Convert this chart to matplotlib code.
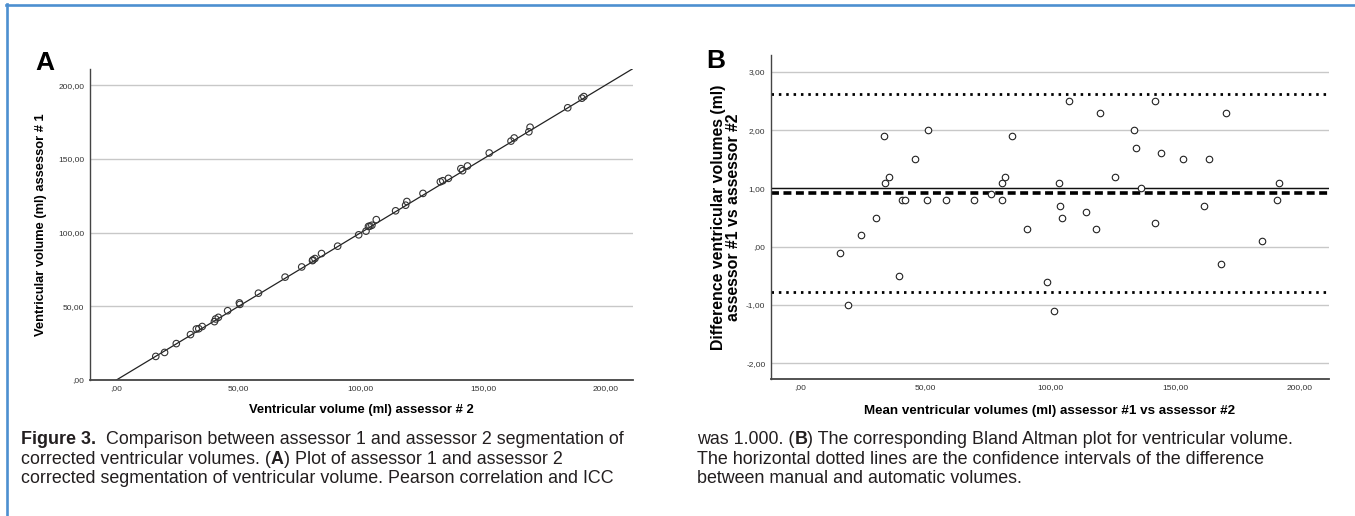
import matplotlib
matplotlib.use('Agg')
import matplotlib.pyplot as plt
from matplotlib import rcParams
from matplotlib.lines import Line2D
from matplotlib.ticker import FuncFormatter

# panel A: assessor 2 (x) vs assessor 1 (y), ml
a2_vol = [16.1, 19.7, 24.5, 30.3, 32.7, 33.7, 35.1, 40.1, 40.6, 41.7, 45.5, 50.5,
          50.3, 58.1, 69.0, 75.8, 80.2, 80.4, 81.2, 83.9, 90.5, 99.1, 102.1, 103.1,
          103.7, 104.5, 106.3, 114.2, 118.3, 118.8, 125.4, 132.5, 133.5, 135.8, 141.6,
          140.9, 143.6, 152.5, 161.4, 162.7, 168.7, 169.2, 184.6, 190.4, 191.2]
a1_vol = [16.0, 18.7, 24.7, 30.8, 34.6, 34.8, 36.3, 39.6, 41.4, 42.5, 47.0, 51.3,
          52.3, 58.9, 69.8, 76.7, 81.0, 81.5, 82.4, 85.8, 90.8, 98.5, 101.0, 104.2,
          104.4, 105.0, 108.8, 114.8, 118.6, 121.1, 126.6, 134.5, 135.2, 136.8, 142.0,
          143.4, 145.2, 154.0, 162.1, 164.2, 168.4, 171.5, 184.7, 191.2, 192.3]

# panel B: Bland Altman, mean vs difference
ba_mean = [16.0, 19.2, 24.6, 30.5, 33.6, 34.2, 35.7, 39.8, 41.0, 42.1, 46.2, 50.9,
           51.3, 58.5, 69.4, 76.2, 80.6, 80.9, 81.8, 84.8, 90.6, 98.8, 101.5, 103.6,
           104.0, 104.7, 107.5, 114.5, 118.4, 119.9, 126.0, 133.5, 134.3, 136.3, 141.8,
           142.1, 144.4, 153.2, 161.7, 163.4, 168.5, 170.3, 184.6, 190.8, 191.7]
ba_diff = [-0.1, -1.0, 0.2, 0.5, 1.9, 1.1, 1.2, -0.5, 0.8, 0.8, 1.5, 0.8,
           2.0, 0.8, 0.8, 0.9, 0.8, 1.1, 1.2, 1.9, 0.3, -0.6, -1.1, 1.1,
           0.7, 0.5, 2.5, 0.6, 0.3, 2.3, 1.2, 2.0, 1.7, 1.0, 0.4,
           2.5, 1.6, 1.5, 0.7, 1.5, -0.3, 2.3, 0.1, 0.8, 1.1]
ba_ref = 1.0
ba_bias = 0.93
ba_upper = 2.62
ba_lower = -0.78

a_ticks = [0, 50, 100, 150, 200]
b_yticks = [-2, -1, 0, 1, 2, 3]

caption_left = [
    [(u'Figure 3.', True), (u'  Comparison between assessor 1 and assessor 2 segmentation of', False)],
    [(u'corrected ventricular volumes. (', False), (u'A', True), (u') Plot of assessor 1 and assessor 2', False)],
    [(u'corrected segmentation of ventricular volume. Pearson correlation and ICC', False)],
]
caption_right = [
    [(u'was 1.000. (', False), (u'B', True), (u') The corresponding Bland Altman plot for ventricular volume.', False)],
    [(u'The horizontal dotted lines are the confidence intervals of the difference', False)],
    [(u'between manual and automatic volumes.', False)],
]


def spss_fmt(v, pos=None):
    s = ('%.2f' % v).replace('.', ',')
    if s.startswith('0,'):
        s = s[1:]
    return s


rcParams.update({
    'font.family': 'sans-serif',
    'font.sans-serif': ['Liberation Sans', 'DejaVu Sans'],
    'font.size': 8,
})

W, H = 1355, 516
fig = plt.figure(figsize=(W / 100., H / 100.), dpi=100)


def px_axes(l, t, r, b):
    return fig.add_axes([l / float(W), 1 - b / float(H), (r - l) / float(W), (b - t) / float(H)])


def style_axes(ax):
    for s in ['top', 'right']:
        ax.spines[s].set_visible(False)
    ax.spines['left'].set_color('#444444')
    ax.spines['bottom'].set_color('#444444')
    ax.spines['left'].set_linewidth(1.0)
    ax.spines['bottom'].set_linewidth(1.3)
    ax.tick_params(length=0, labelsize=6.0, colors='#333333')
    ax.tick_params(axis='x', pad=3.5)
    ax.tick_params(axis='y', pad=4)
    ax.xaxis.set_major_formatter(FuncFormatter(spss_fmt))
    ax.yaxis.set_major_formatter(FuncFormatter(spss_fmt))
    ax.grid(True, axis='y', color='#c8c8c8', linewidth=1.0)
    ax.set_axisbelow(True)


# ---- panel A ----
axA = px_axes(90, 69, 633, 380)
style_axes(axA)
axA.set_xlim(-10.8, 211.3)
axA.set_ylim(0, 211)
axA.set_xticks(a_ticks)
axA.set_yticks(a_ticks)
axA.plot([0, 215], [0, 215], color='#222222', linewidth=0.9)
axA.scatter(a2_vol, a1_vol, s=22, facecolors='none', edgecolors='#333333', linewidths=0.8, zorder=3)
axA.set_xlabel(u'Ventricular volume (ml) assessor # 2', fontsize=9.4, fontweight='bold', labelpad=9)
axA.set_ylabel(u'Ventricular volume (ml) assessor # 1', fontsize=9.3, fontweight='bold', labelpad=8)
fig.text(35 / float(W), 1 - 70 / float(H), u'A', fontsize=19, fontweight='bold', ha='left', va='baseline')

# ---- panel B ----
axB = px_axes(771, 55, 1329, 379)
style_axes(axB)
axB.set_xlim(-11.6, 211.6)
axB.set_ylim(-2.27, 3.29)
axB.set_xticks(a_ticks)
axB.set_yticks(b_yticks)
axB.axhline(ba_ref, color='#111111', linewidth=1.0)
axB.axhline(ba_bias, color='black', linewidth=2.6, dashes=(2.2, 1.25))
axB.axhline(ba_upper, color='black', linewidth=2.0, dashes=(0.9, 1.75))
axB.axhline(ba_lower, color='black', linewidth=2.0, dashes=(0.9, 1.75))
axB.scatter(ba_mean, ba_diff, s=22, facecolors='white', edgecolors='#222222', linewidths=0.8, zorder=3)
axB.set_xlabel(u'Mean ventricular volumes (ml) assessor #1 vs assessor #2', fontsize=9.6,
               fontweight='bold', labelpad=10.5)
axB.set_ylabel(u'Difference ventricular volumes (ml)\nassessor #1 vs assessor #2', fontsize=11.4,
               fontweight='bold', labelpad=4, linespacing=0.95)
fig.text(706 / float(W), 1 - 68 / float(H), u'B', fontsize=19, fontweight='bold', ha='left', va='baseline')

# ---- caption ----
def caption(x0, lines, y0, dy):
    r = fig.canvas.get_renderer()
    for i, parts in enumerate(lines):
        x = x0
        y = 1 - (y0 + i * dy) / float(H)
        for txt, bold in parts:
            t = fig.text(x / float(W), y, txt, fontsize=12.9, color='#231f20',
                         fontweight='bold' if bold else 'normal', ha='left', va='baseline')
            x += t.get_window_extent(renderer=r).width


caption(21, caption_left, 444, 19.5)
caption(697, caption_right, 444, 19.5)

# blue frame
blue = '#4d8fd0'
fig.add_artist(Line2D([6 / float(W), 1], [1 - 5 / float(H)] * 2, color=blue, linewidth=1.9,
                      transform=fig.transFigure))
fig.add_artist(Line2D([7.5 / float(W)] * 2, [0, 1 - 4 / float(H)], color=blue, linewidth=1.9,
                      transform=fig.transFigure))

plt.savefig('out.png', dpi=100)
